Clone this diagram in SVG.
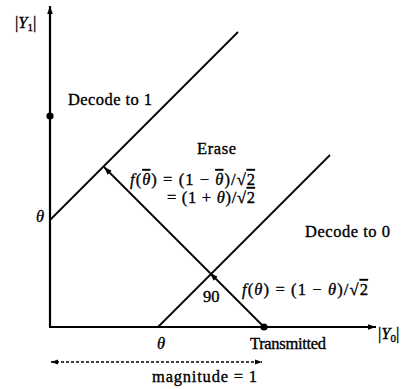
<svg xmlns="http://www.w3.org/2000/svg" width="404" height="389" viewBox="0 0 404 389">
<defs>
<marker id="ah" viewBox="0 0 10 10" refX="10" refY="5" markerWidth="8" markerHeight="8" markerUnits="userSpaceOnUse" orient="auto">
<path d="M0,1.5 L10,5 L0,8.5 z" fill="#000"/>
</marker>
<marker id="ahs" viewBox="0 0 10 10" refX="10" refY="5" markerWidth="7" markerHeight="7" markerUnits="userSpaceOnUse" orient="auto-start-reverse">
<path d="M0,1.5 L10,5 L0,8.5 z" fill="#000"/>
</marker>
</defs>
<style>
text{font-family:'Liberation Serif','DejaVu Serif','Times New Roman',serif;font-size:16.5px;fill:#000;stroke:#000;stroke-width:0.35}
.i{font-style:italic}
.ln{stroke:#000;stroke-width:1.8;fill:none}
.ax{stroke:#000;stroke-width:2.2;fill:none}
.sub{font-size:11px}
.ov{text-decoration:overline}
</style>
<rect width="404" height="389" fill="#fff"/>
<g id="axes">
<line class="ax" x1="50" y1="327" x2="50" y2="6" marker-end="url(#ah)"/>
<line class="ax" x1="49" y1="327" x2="376" y2="327" marker-end="url(#ah)"/>
</g>
<g id="connectors">
<line class="ln" x1="50" y1="220" x2="238" y2="32"/>
<line class="ln" x1="158" y1="327" x2="330" y2="155"/>
<line class="ln" x1="264" y1="327" x2="210" y2="273" marker-end="url(#ah)"/>
<line class="ln" x1="210" y1="273" x2="104" y2="167" marker-end="url(#ah)"/>
<line stroke="#000" stroke-width="1.4" stroke-dasharray="3,2" x1="51" y1="362" x2="262" y2="362" marker-start="url(#ahs)" marker-end="url(#ahs)"/>
</g>
<g id="dots">
<circle cx="50" cy="116" r="3.6" fill="#000"/>
<circle cx="264" cy="327" r="3.6" fill="#000"/>
</g>
<g id="labels">
<text x="15" y="28">|<tspan class="i">Y</tspan><tspan class="sub" dy="3">1</tspan><tspan dy="-3">|</tspan></text>
<text x="378" y="339">|<tspan class="i">Y</tspan><tspan class="sub" dy="3">0</tspan><tspan dy="-3">|</tspan></text>
<text x="68" y="105" textLength="84">Decode to 1</text>
<text x="305" y="237" textLength="85">Decode to 0</text>
<text x="197" y="154" textLength="39">Erase</text>
<text x="130" y="185" textLength="125"><tspan class="i">f</tspan>(<tspan class="i ov">θ</tspan>) = (1 − <tspan class="i ov">θ</tspan>)/√<tspan class="ov">2</tspan></text>
<text x="167" y="203" textLength="88">= (1 + <tspan class="i">θ</tspan>)/√<tspan class="ov">2</tspan></text>
<text x="242" y="295" textLength="126"><tspan class="i">f</tspan>(<tspan class="i">θ</tspan>) = (1 − <tspan class="i">θ</tspan>)/√<tspan class="ov">2</tspan></text>
<text x="203" y="302">90</text>
<text class="i" x="36" y="222">θ</text>
<text class="i" x="157" y="349">θ</text>
<text x="250" y="349" textLength="76">Transmitted</text>
<text x="152" y="382" textLength="105">magnitude = 1</text>
</g>
</svg>
